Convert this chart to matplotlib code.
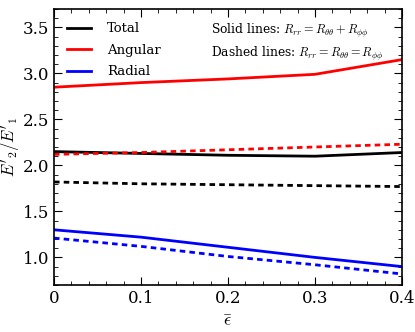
import matplotlib
matplotlib.use('Agg')
import matplotlib.pyplot as plt
from matplotlib.ticker import AutoMinorLocator

plt.rcParams['font.family'] = 'DejaVu Serif'
plt.rcParams['mathtext.fontset'] = 'cm'

eps = [0, 0.1, 0.2, 0.3, 0.4]
xlabels = ['0', '0.1', '0.2', '0.3', '0.4']

total_solid = [2.15, 2.13, 2.11, 2.10, 2.14]
angular_solid = [2.85, 2.90, 2.94, 2.99, 3.15]
radial_solid = [1.30, 1.22, 1.11, 1.00, 0.90]

total_dashed = [1.82, 1.80, 1.79, 1.78, 1.77]
angular_dashed = [2.12, 2.14, 2.17, 2.20, 2.23]
radial_dashed = [1.21, 1.12, 1.01, 0.92, 0.82]

fig = plt.figure(figsize=(4.15, 3.32), dpi=100)
ax = fig.add_axes([54 / 415, 47 / 332, 348 / 415, 276 / 332])

ax.plot(eps, total_solid, color='black', lw=2, label='Total')
ax.plot(eps, angular_solid, color='red', lw=2, label='Angular')
ax.plot(eps, radial_solid, color='blue', lw=2, label='Radial')
ax.plot(eps, total_dashed, color='black', lw=2, ls=(0, (2, 1.5)))
ax.plot(eps, angular_dashed, color='red', lw=2, ls=(0, (2, 1.5)))
ax.plot(eps, radial_dashed, color='blue', lw=2, ls=(0, (2, 1.5)))

ax.set_xlim(0, 0.4)
ax.set_ylim(0.7, 3.7)
ax.set_xticks(eps)
ax.set_xticklabels(xlabels)
ax.set_yticks([1.0, 1.5, 2.0, 2.5, 3.0, 3.5])
ax.xaxis.set_minor_locator(AutoMinorLocator(5))
ax.yaxis.set_minor_locator(AutoMinorLocator(5))
ax.tick_params(which='both', direction='in', top=True, right=True, labelsize=12)
ax.tick_params(which='major', length=6)
ax.tick_params(which='minor', length=3)
for s in ax.spines.values():
    s.set_linewidth(1.2)

ax.set_xlabel(r'$\bar{\epsilon}$', fontsize=13)
ax.set_ylabel(r"$E'_2/E'_1$", fontsize=12)
ax.yaxis.set_label_coords(-0.088, 0.5)

ax.legend(loc='upper left', frameon=False, fontsize=9.5, handlelength=1.8,
          handletextpad=1.2, borderaxespad=0.6, labelspacing=0.65)
ax.text(0.452, 0.955, r'Solid lines: $R_{rr}=R_{\theta\theta}+R_{\phi\phi}$' + '\n'
        + r'Dashed lines: $R_{rr}=R_{\theta\theta}=R_{\phi\phi}$',
        transform=ax.transAxes, ha='left', va='top', fontsize=8.8,
        linespacing=1.35)

fig.savefig('out.png', dpi=100)
